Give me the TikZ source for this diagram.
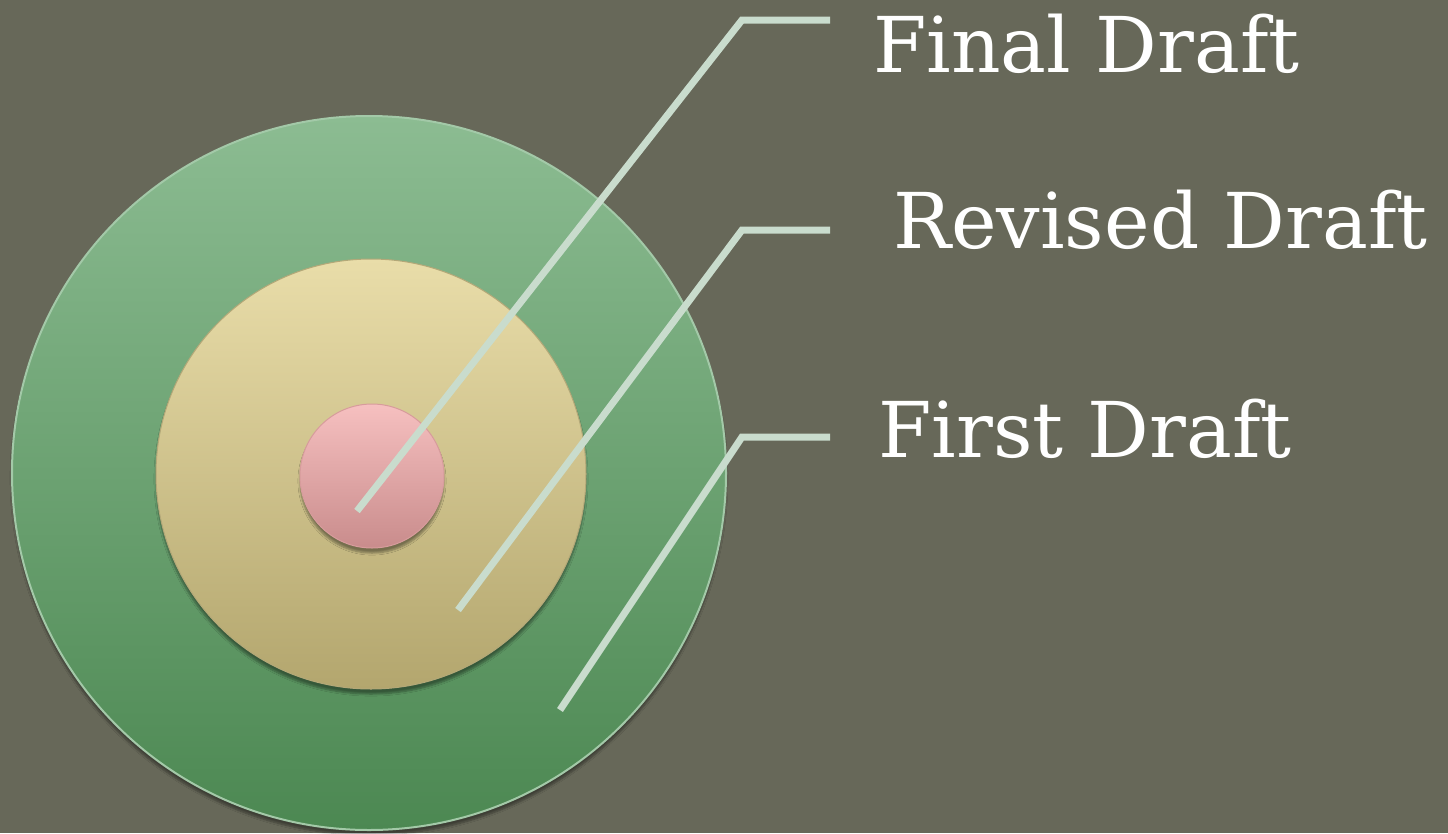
\documentclass[tikz,border=0pt]{standalone}
\usepackage{fontspec}
\setmainfont{DejaVu Serif}
\usetikzlibrary{shadows.blur}
\definecolor{bg}{HTML}{676859}
\definecolor{leader}{HTML}{C9DCCD}
\definecolor{gtop}{HTML}{8CBC92}
\definecolor{gbot}{HTML}{4C8852}
\definecolor{ytop}{HTML}{E9DDA9}
\definecolor{ybot}{HTML}{B3A66E}
\definecolor{ptop}{HTML}{F6C0C0}
\definecolor{pbot}{HTML}{C98C8C}
\tikzset{
  ring/.style={circle, inner sep=0pt, blur shadow={shadow xshift=0pt, shadow yshift=-5pt, shadow blur steps=6, shadow opacity=40}},
  leaderline/.style={draw=leader, line width=7pt, line join=miter},
  lbl/.style={anchor=base west, text=white, inner sep=0pt, font=\fontsize{77}{84}\selectfont}
}
\begin{document}
\begin{tikzpicture}[x=1pt,y=-1pt]
\fill[bg] (0,0) rectangle (1448,833);
\useasboundingbox (0,0) rectangle (1448,833);
\node[ring, minimum size=714pt, top color=gtop, bottom color=gbot, draw=gtop!80!white, line width=2pt] (outer) at (369,473) {};
\node[ring, minimum size=430pt, top color=ytop, bottom color=ybot, draw=ybot!80!black!60!ytop, line width=1pt] (middle) at (371,474) {};
\node[ring, minimum size=144pt, top color=ptop, bottom color=pbot, draw=pbot!70!ptop, line width=1pt] (inner) at (372,476) {};
\coordinate (a1) at (357,511);
\coordinate (a2) at (742,20);
\coordinate (a3) at (830,20);
\coordinate (b1) at (458,610);
\coordinate (b2) at (742,230);
\coordinate (b3) at (830,230);
\coordinate (c1) at (560,710);
\coordinate (c2) at (742,437);
\coordinate (c3) at (830,437);
\draw[leaderline] (a1) -- (a2) -- (a3);
\draw[leaderline] (b1) -- (b2) -- (b3);
\draw[leaderline] (c1) -- (c2) -- (c3);
\node[lbl] (final) at (873,72) {Final Draft};
\node[lbl] (revised) at (893,248) {Revised Draft};
\node[lbl] (first) at (878,457) {First Draft};
\end{tikzpicture}
\end{document}
